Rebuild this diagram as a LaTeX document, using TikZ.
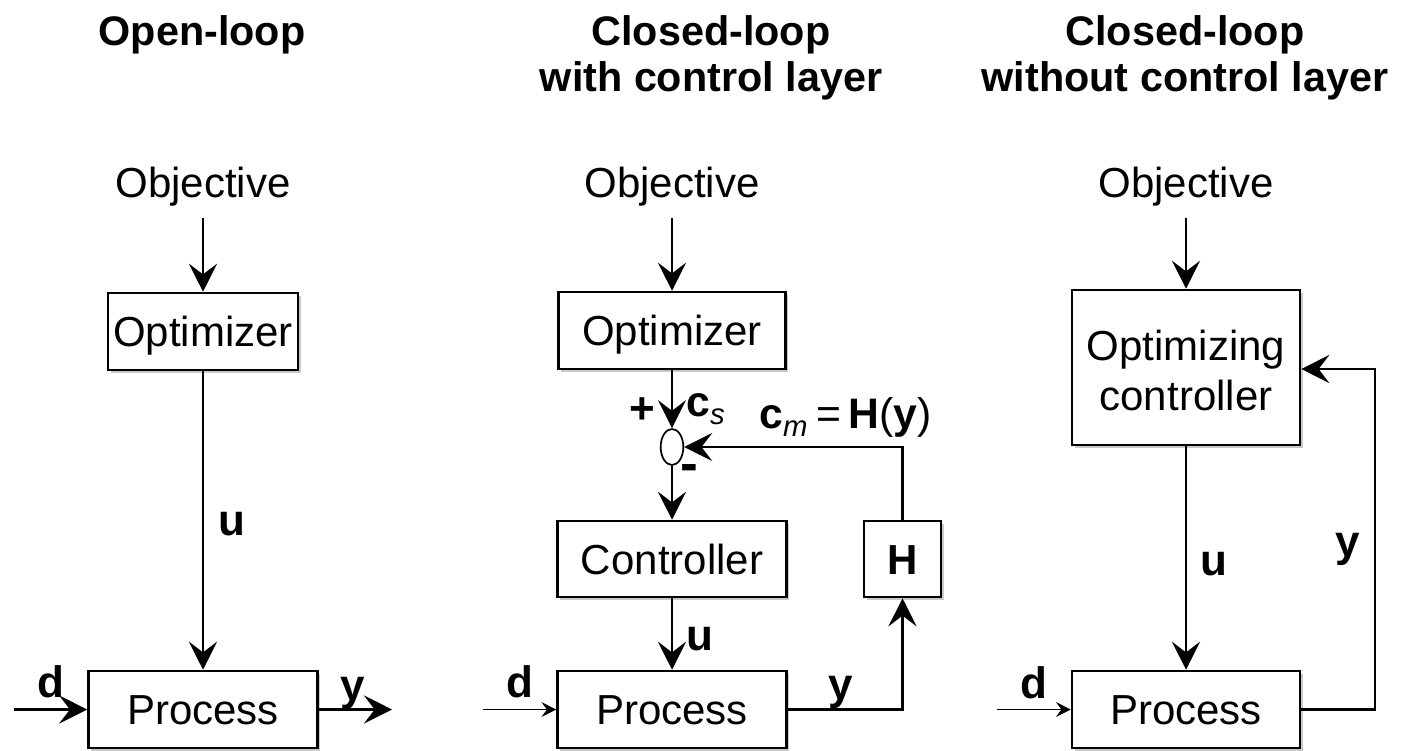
\documentclass[tikz,border=0pt]{standalone}
\usepackage{fontspec}
\setmainfont{Liberation Sans}
\usetikzlibrary{arrows.meta,shapes.geometric,shadows}

\begin{document}
\begin{tikzpicture}[x=0.75pt,y=-0.75pt,
  every node/.style={inner sep=0pt},
  box/.style={draw, line width=1.9pt, fill=white,
    text height=22.5pt, text depth=0pt,
    font=\fontsize{31.5}{38}\selectfont,
    drop shadow={shadow xshift=2pt, shadow yshift=-2pt, opacity=0.3, fill=black!70}},
  boxtext/.style={anchor=base, font=\fontsize{31.5}{38}\selectfont},
  objtext/.style={anchor=base, outer ysep=9pt, font=\fontsize{31.5}{38}\selectfont},
  title/.style={anchor=base, font=\fontsize{31}{37}\selectfont\bfseries},
  lbl/.style={anchor=base, font=\fontsize{33}{39}\selectfont\bfseries},
  eqn/.style={anchor=base west, font=\fontsize{32}{38}\selectfont},
  arr/.style={line width=1.8pt, -{Stealth[length=21pt, width=21pt, inset=8pt]}},
  thinarr/.style={line width=1.1pt, -{Stealth[length=11pt, width=11pt, inset=4pt]}},
  sumnode/.style={draw, ellipse, line width=1.3pt, fill=white,
    minimum width=17pt, minimum height=27pt}
]
\useasboundingbox (0,0) rectangle (1403,750);

% ---------------- titles
\node[title] (t1)  at (202,45)  {Open-loop};
\node[title] (t2a) at (711,45)  {Closed-loop};
\node[title] (t2b) at (711,91)  {with control layer};
\node[title] (t3a) at (1185,45) {Closed-loop};
\node[title] (t3b) at (1185,91) {without control layer};

% ---------------- open loop
\node[objtext] (obj1) at (203,197) {Objective};
\node[box, minimum width=142.5pt, minimum height=57.75pt] (opt1) at (203,331.5) {Optimizer};
\node[box, minimum width=171.75pt, minimum height=57.75pt] (proc1) at (203,709.5) {Process};
\coordinate (d1) at (14,709.5);
\coordinate (y1) at (392,709.5);
\draw[arr] (obj1.south) -- (opt1.north);
\draw[arr] (opt1.south) -- (proc1.north);
\draw[arr] (d1) -- (proc1.west);
\draw[arr] (proc1.east) -- (y1);
\node[lbl] (u1) at (232,535) {u};
\node[lbl] (dl1) at (51,697) {d};
\node[lbl] (yl1) at (353,700) {y};

% ---------------- closed loop with control layer
\node[objtext] (obj2) at (672,197) {Objective};
\node[box, minimum width=170.25pt, minimum height=57.75pt] (opt2) at (672,330.5) {Optimizer};
\node[sumnode] (sum) at (672,447) {};
\node[box, minimum width=171.75pt, minimum height=57pt] (ctrl) at (672,559) {Controller};
\node[box, minimum width=57.75pt, minimum height=57pt, font=\fontsize{31.5}{38}\selectfont\bfseries] (H) at (902.5,559) {H};
\node[box, minimum width=171.75pt, minimum height=57.75pt] (proc2) at (672,709.5) {Process};
\coordinate (d2) at (483,709.5);
\draw[arr] (obj2.south) -- (opt2.north);
\draw[arr] (opt2.south) -- (sum.north);
\draw[arr] (sum.south) -- (ctrl.north);
\draw[arr] (ctrl.south) -- (proc2.north);
\draw[thinarr] (d2) -- (proc2.west);
\draw[arr] (proc2.east) -| (H.south);
\draw[arr] (H.north) |- (sum.east);
\node[lbl] (plus) at (642,423) {+};
\node[lbl, font=\fontsize{40}{40}\selectfont\bfseries] (minus) at (689,481) {-};
\node[eqn] (cs) at (686,416) {\textbf{c}\raisebox{-6pt}{\fontsize{22}{22}\selectfont\itshape s}};
\node[eqn] (cm) at (759,428) {\textbf{c}\raisebox{-6pt}{\fontsize{22}{22}\selectfont\itshape m}\hspace{7pt}=\hspace{5pt}\textbf{H}(\textbf{y})};
\node[lbl] (u2) at (700,650) {u};
\node[lbl] (dl2) at (520,697) {d};
\node[lbl] (yl2) at (841,699) {y};

% ---------------- closed loop without control layer
\node[objtext] (obj3) at (1186,197) {Objective};
\node[box, minimum width=171pt, minimum height=116.25pt] (oc) at (1186,367.5) {};
\node[boxtext] (oct1) at (1186,360) {Optimizing};
\node[boxtext] (oct2) at (1186,410) {controller};
\node[box, minimum width=171pt, minimum height=57.75pt] (proc3) at (1186,709.5) {Process};
\coordinate (d3) at (997,709.5);
\coordinate (fb) at (1375,369);
\draw[arr] (obj3.south) -- (oc.north);
\draw[arr] (oc.south) -- (proc3.north);
\draw[thinarr] (d3) -- (proc3.west);
\draw[arr] (proc3.east) -| (fb) -- (oc.east |- fb);
\node[lbl] (u3) at (1214,575) {u};
\node[lbl] (dl3) at (1034,698) {d};
\node[lbl] (yl3) at (1348,556) {y};
\end{tikzpicture}
\end{document}
